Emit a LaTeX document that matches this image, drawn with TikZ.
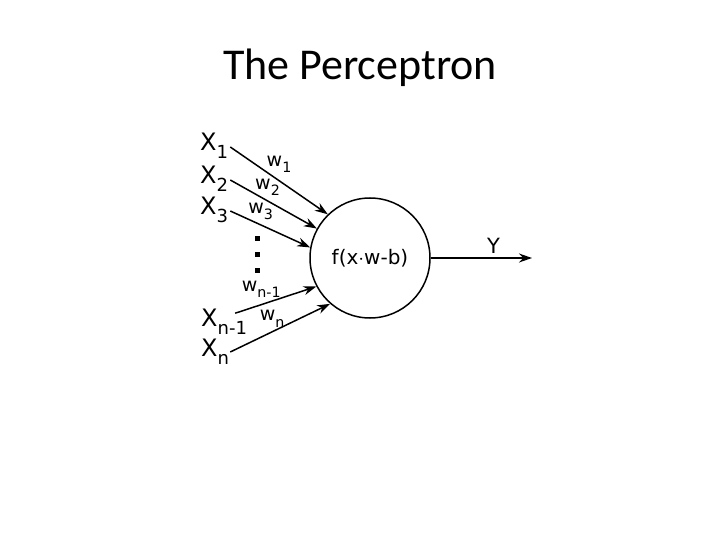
\documentclass[tikz,border=0pt]{standalone}
\usepackage{fontspec}
\setmainfont{Carlito}
\newfontfamily\diagfont{DejaVu Sans}
\usetikzlibrary{arrows.meta, positioning, calc}
\newcommand{\lowsub}[1]{\raisebox{-0.32em}{\scalebox{0.75}{#1}}}

\begin{document}
\begin{tikzpicture}[
    x=1pt, y=-1pt,
    inlabel/.style={font=\diagfont\fontsize{24}{24}\selectfont, inner sep=0pt, anchor=west},
    wlabel/.style={font=\diagfont\fontsize{19}{19}\selectfont, inner sep=1pt},
    neuron/.style={draw, circle, line width=1.5pt, minimum size=120pt, inner sep=0pt, font=\diagfont\fontsize{20}{20}\selectfont},
    dotbox/.style={fill=black, rectangle, minimum size=5pt, inner sep=0pt},
    flow/.style={-{Stealth[length=13pt,width=9pt]}, line width=1.5pt}
]
\useasboundingbox (0,0) rectangle (720,540);

\node[font=\fontsize{44}{44}\selectfont] (title) at (360,68) {The Perceptron};

\node[neuron] (neuron) at (370,258) {f(x$\cdot$w-b)};

% inputs
\node[inlabel] (x1) at (200,146) {X\lowsub{1}};
\node[inlabel] (x2) at (200,179) {X\lowsub{2}};
\node[inlabel] (x3) at (200,210) {X\lowsub{3}};
\node[inlabel] (xn1) at (201,322) {X\lowsub{n-1}};
\node[inlabel] (xn) at (201,352) {X\lowsub{n}};

\node[dotbox] (d1) at (257,238) {};
\node[dotbox] (d2) at (257,254) {};
\node[dotbox] (d3) at (257,270) {};

\draw[flow] ($(x1.east)+(2,1)$) -- node[wlabel, pos=0.5, above=6pt] {w\lowsub{1}} (neuron.134);
\draw[flow] ($(x2.east)+(2,1)$) -- node[wlabel, pos=0.43, above=4pt] {w\lowsub{2}} (neuron.151);
\draw[flow] ($(x3.east)+(2,1)$) -- node[wlabel, pos=0.38, above=3pt] {w\lowsub{3}} (neuron.170);
\draw[flow] ($(xn1.north east)+(-12,4)$) -- node[wlabel, pos=0.32, above=5pt] {w\lowsub{n-1}} (neuron.208);
\draw[flow] ($(xn.east)+(1,0)$) -- node[wlabel, pos=0.42, above=3pt] {w\lowsub{n}} (neuron.229);

% output
\coordinate (out) at (532,258);
\draw[flow] (neuron.east) -- node[wlabel, pos=0.62, above=3pt, font=\diagfont\fontsize{21}{21}\selectfont] {Y} (out);
\end{tikzpicture}
\end{document}
